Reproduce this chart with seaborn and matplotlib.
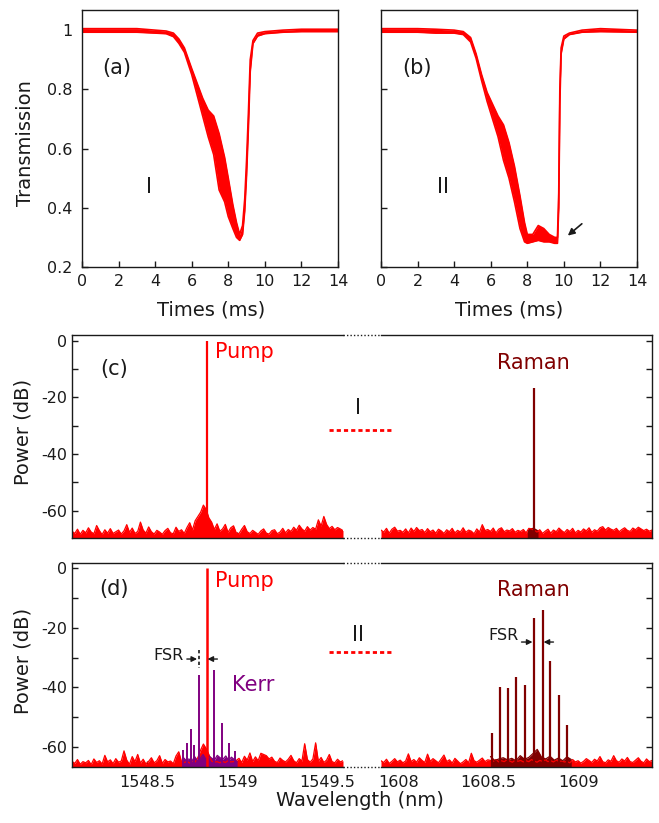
import numpy as np
import pandas as pd
import matplotlib
matplotlib.use('Agg')
import matplotlib.pyplot as plt
import seaborn as sns
from matplotlib.lines import Line2D

sns.set_theme(style='ticks')
plt.rcParams['font.family'] = ['DejaVu Sans']
plt.rcParams['axes.unicode_minus'] = False
plt.rcParams['text.color'] = 'k'
plt.rcParams['axes.labelcolor'] = 'k'
plt.rcParams['xtick.color'] = 'k'
plt.rcParams['ytick.color'] = 'k'

RED = '#ff0000'
DARKRED = '#800000'
PURPLE = '#800080'

# ---------------- transmission traces (envelopes of the noisy trace) ----------------
t_a = [0, 1, 2, 3, 4, 4.6, 5.0, 5.3, 5.6, 6.0, 6.3, 6.6, 6.9, 7.2, 7.5, 7.8, 8.0, 8.25,
       8.45, 8.62, 8.78, 8.9, 9.0, 9.1, 9.2, 9.35, 9.6, 10.0, 11, 12, 14]
upper_a = [1.005, 1.005, 1.005, 1.005, 1.0, 0.997, 0.99, 0.97, 0.94, 0.87, 0.82, 0.77, 0.73,
           0.71, 0.65, 0.57, 0.50, 0.41, 0.35, 0.31, 0.34, 0.43, 0.56, 0.72, 0.90, 0.965,
           0.99, 0.995, 1.0, 1.003, 1.003]
lower_a = [0.993, 0.993, 0.993, 0.993, 0.99, 0.988, 0.978, 0.955, 0.925, 0.85, 0.78, 0.71,
           0.64, 0.58, 0.46, 0.42, 0.37, 0.33, 0.30, 0.29, 0.31, 0.39, 0.51, 0.67, 0.86,
           0.955, 0.98, 0.988, 0.993, 0.995, 0.995]

t_b = [0, 1, 2, 3, 4, 4.5, 4.9, 5.2, 5.5, 5.8, 6.1, 6.4, 6.7, 7.0, 7.3, 7.6, 7.85, 8.0,
       8.3, 8.6, 8.9, 9.2, 9.5, 9.65, 9.72, 9.78, 9.85, 10.0, 10.3, 11, 12, 14]
upper_b = [1.005, 1.005, 1.005, 1.003, 1.0, 0.995, 0.975, 0.92, 0.85, 0.79, 0.75, 0.71,
           0.68, 0.62, 0.54, 0.44, 0.35, 0.31, 0.31, 0.34, 0.33, 0.31, 0.30, 0.30, 0.45,
           0.80, 0.94, 0.98, 0.99, 1.0, 1.005, 1.0]
lower_b = [0.993, 0.993, 0.993, 0.99, 0.99, 0.985, 0.96, 0.905, 0.83, 0.76, 0.70, 0.64,
           0.56, 0.50, 0.42, 0.33, 0.285, 0.28, 0.285, 0.29, 0.285, 0.285, 0.28, 0.28,
           0.40, 0.75, 0.92, 0.97, 0.985, 0.993, 0.995, 0.993]

time_ticks = [0, 2, 4, 6, 8, 10, 12, 14]
trans_ticks = [0.2, 0.4, 0.6, 0.8, 1.0]
trans_tick_labels = ['0.2', '0.4', '0.6', '0.8', '1']

# ---------------- spectra ----------------
pump_wl = 1548.83
pump_db = 0.0
raman_c_wl = 1608.75
raman_c_db = -16.6
raman_c_base_wl = [1608.715, 1608.73, 1608.745, 1608.76, 1608.775]
raman_c_base_db = [-66.6, -66.0, -65.8, -66.2, -66.8]

kerr_wl = [1548.699, 1548.72, 1548.742, 1548.758, 1548.785, 1548.871, 1548.914, 1548.957, 1548.99]
kerr_db = [-61.0, -58.5, -54.0, -59.4, -36.0, -34.2, -52.1, -58.7, -61.5]
kerr_floor_db = [-63.5, -64.5, -64.0, -64.8, -63.2, -64.6, -63.8, -62.5, -64.2, -63.0,
                 -63.7, -64.4, -62.8, -63.6, -64.1, -63.0, -64.5, -63.4, -64.2, -64.9]

raman_d_wl = [1608.517, 1608.561, 1608.609, 1608.654, 1608.702, 1608.752, 1608.800,
              1608.844, 1608.893, 1608.939]
raman_d_db = [-55.4, -39.8, -40.1, -36.6, -39.3, -16.9, -14.1, -31.2, -42.6, -52.6]
raman_floor_db = [-63.2, -64.5, -64.0, -63.6, -64.3, -63.8, -64.6, -62.9, -64.1, -63.5,
                  -62.2, -60.8, -63.4, -64.0, -63.1, -64.4, -63.7, -64.6, -63.3, -64.2]

noise_c_left = [
    -67.2, -68.0, -66.5, -68.3, -66.9, -67.8, -66.0, -67.5, -68.1, -65.2,
    -67.0, -68.4, -66.7, -67.9, -66.3, -68.0, -67.4, -66.8, -68.2, -67.1,
    -64.9, -67.6, -66.1, -68.0, -67.3, -64.0, -66.8, -67.9, -65.7, -67.4,
    -68.2, -66.9, -67.5, -68.3, -67.0, -66.2, -67.8, -68.1, -65.8, -67.3,
    -66.7, -68.0, -65.9, -64.2, -66.8, -63.5, -62.0, -60.5, -58.0, -59.5,
    -62.5, -64.0, -66.6, -64.6, -67.2, -66.4, -64.8, -67.6, -66.0, -65.3,
    -67.8, -68.1, -66.5, -65.2, -67.4, -68.0, -66.9, -67.6, -68.3, -67.1,
    -66.4, -67.9, -68.2, -67.0, -66.7, -68.1, -67.5, -66.2, -67.8, -66.6,
    -67.3, -65.8, -66.9, -65.1, -66.4, -67.2, -65.6, -66.8, -65.9, -66.5,
    -63.2, -65.4, -62.0, -64.8, -66.3, -65.5, -66.7, -65.9, -66.4, -67.0]
noise_c_right = [
    -66.8, -67.5, -66.2, -67.9, -66.5, -65.8, -67.2, -66.9, -67.6, -66.4,
    -67.8, -66.1, -67.3, -65.9, -67.0, -66.6, -67.7, -66.3, -67.4, -66.8,
    -67.9, -66.5, -67.1, -68.0, -66.7, -67.4, -66.2, -67.8, -66.9, -67.5,
    -66.0, -67.6, -66.8, -67.2, -68.1, -66.4, -67.5, -64.9, -67.0, -66.6,
    -67.3, -66.1, -67.8, -66.5, -66.0, -67.4, -66.8, -67.1, -66.3, -67.6,
    -66.9, -67.3, -66.6, -67.8, -66.2, -66.4, -66.9, -67.5, -66.7, -68.0,
    -67.2, -66.5, -67.9, -66.8, -67.4, -66.1, -67.0, -67.7, -66.6, -67.3,
    -66.2, -67.8, -66.9, -67.5, -66.4, -67.1, -66.0, -67.6, -66.7, -67.2,
    -66.0, -65.6, -66.8, -65.9, -66.5, -66.9, -66.2, -67.4, -66.6, -66.0,
    -66.9, -67.3, -66.1, -66.7, -65.8, -66.4, -67.0, -66.5, -67.2, -66.8]
noise_d_left = [
    -64.8, -65.5, -64.2, -65.8, -64.9, -65.3, -64.5, -65.9, -64.0, -65.2,
    -64.6, -65.7, -62.8, -65.0, -64.3, -65.6, -63.9, -65.1, -64.7, -61.3,
    -64.4, -65.8, -63.2, -64.9, -62.5, -65.4, -64.1, -65.7, -64.8, -63.6,
    -65.3, -64.6, -62.9, -65.5, -64.2, -65.0, -64.7, -65.6, -63.0, -61.6,
    -64.9, -65.2, -64.8, -65.4, -64.6, -65.0, -63.5, -61.0, -59.0, -60.5,
    -62.5, -64.7, -65.1, -64.9, -65.3, -64.8, -65.2, -64.6, -65.0, -64.9,
    -64.5, -63.8, -65.2, -63.1, -64.4, -62.0, -64.9, -63.3, -64.6, -62.1,
    -62.5, -62.9, -64.0, -63.4, -64.8, -65.2, -63.7, -64.5, -65.0, -64.1,
    -62.8, -64.6, -65.3, -63.9, -64.7, -58.9, -64.2, -65.1, -64.0, -58.6,
    -64.8, -63.5, -65.2, -64.4, -62.5, -64.9, -65.3, -64.1, -65.0, -64.6]
noise_d_right = [
    -64.6, -65.2, -64.1, -65.5, -64.8, -63.9, -65.0, -64.4, -65.3, -64.7,
    -62.3, -64.9, -64.2, -65.1, -63.6, -64.5, -65.2, -62.4, -64.8, -63.9,
    -64.6, -65.3, -64.0, -62.7, -64.9, -64.3, -65.4, -63.8, -64.7, -65.6,
    -65.0, -64.2, -65.3, -62.1, -64.6, -65.1, -64.4, -63.7, -64.9, -64.3,
    -64.5, -64.8, -64.2, -65.0, -64.6, -64.9, -64.3, -64.7, -65.1, -64.4,
    -64.8, -64.5, -65.0, -64.6, -64.9, -64.2, -64.7, -65.1, -64.5, -64.8,
    -64.3, -64.9, -64.6, -65.0, -64.4, -64.8, -64.7, -65.0, -64.9, -65.3,
    -64.2, -65.0, -64.6, -65.4, -64.8, -63.9, -64.5, -65.2, -64.1, -64.7,
    -63.2, -64.9, -65.3, -64.3, -64.8, -62.9, -64.6, -65.1, -64.0, -64.7,
    -63.5, -64.9, -65.2, -64.4, -63.6, -64.8, -65.3, -64.0, -64.9, -64.5]

wl_left_range = (1548.08, 1549.59)
wl_right_range = (1607.90, 1609.41)
kerr_range = (1548.70, 1549.00)
raman_floor_range = (1608.51, 1608.96)
ylim_c = (-69.6, 2.0)
ylim_d = (-66.7, 1.7)
wl_left_ticks = [1548.5, 1549.0, 1549.5]
wl_left_labels = ['1548.5', '1549', '1549.5']
wl_right_ticks = [1608.0, 1608.5, 1609.0]
wl_right_labels = ['1608', '1608.5', '1609']
power_ticks = [0, -10, -20, -30, -40, -50, -60]
power_labels = ['0', '', '-20', '', '-40', '', '-60']

# ---------------- figure ----------------
W, H = 659, 823
fig = plt.figure(figsize=(W / 100, H / 100), dpi=100)


def px_axes(x0, y0, x1, y1):
    return fig.add_axes([x0 / W, 1 - y1 / H, (x1 - x0) / W, (y1 - y0) / H])


def ftext(x, y, s, **kw):
    fig.text(x / W, 1 - y / H, s, **kw)


def style(ax):
    for sp in ax.spines.values():
        sp.set_color('k')
        sp.set_linewidth(1.0)
    ax.tick_params(direction='in', length=4, width=1, colors='k', labelsize=11.5)


def trans(ax, t, up, lo):
    ax.fill_between(t, lo, up, color=RED, lw=0)
    df = pd.DataFrame({'t': list(t) + list(t), 'T': list(up) + list(lo),
                       'edge': ['u'] * len(t) + ['l'] * len(t)})
    sns.lineplot(data=df, x='t', y='T', units='edge', estimator=None, color=RED,
                 lw=1.2, ax=ax, legend=False)
    ax.set_xlim(0, 14)
    ax.set_ylim(0.2, 1.068)
    ax.set_xticks(time_ticks)
    ax.set_yticks(trans_ticks)
    ax.set_xlabel('')
    ax.set_ylabel('')
    style(ax)
    ax.tick_params(axis='x', pad=5)
    ax.tick_params(axis='y', pad=7)


ax_a = px_axes(82, 10, 338, 267)
trans(ax_a, t_a, upper_a, lower_a)
ax_a.set_yticklabels(trans_tick_labels)
ax_b = px_axes(381, 10, 637, 267)
trans(ax_b, t_b, upper_b, lower_b)
ax_b.set_yticklabels([])
ax_b.annotate('', xy=(10.1, 0.30), xytext=(11.1, 0.352),
              arrowprops=dict(arrowstyle='-|>', color='k', lw=1.2, mutation_scale=10))

ftext(117, 68, '(a)', fontsize=15, ha='center', va='center')
ftext(149, 187, 'I', fontsize=15, ha='center', va='center')
ftext(417, 68, '(b)', fontsize=15, ha='center', va='center')
ftext(443, 187, 'II', fontsize=15, ha='center', va='center')
ftext(26, 143, 'Transmission', fontsize=14, rotation=90, ha='center', va='center')
ftext(211, 310, 'Times (ms)', fontsize=14, ha='center', va='center')
ftext(509, 310, 'Times (ms)', fontsize=14, ha='center', va='center')


def floor(ax, rng, vals, base, color):
    wl = np.linspace(rng[0], rng[1], len(vals))
    ax.fill_between(wl, base, vals, color=color, lw=0)
    df = pd.DataFrame({'wl': wl, 'db': vals})
    sns.lineplot(data=df, x='wl', y='db', color=color, lw=0.9, ax=ax, estimator=None)
    ax.set_xlabel('')
    ax.set_ylabel('')


def spec_axes(y0, y1, ylim, show_xlabels):
    axL = px_axes(72, y0, 343, y1)
    axR = px_axes(381, y0, 652, y1)
    for ax, rng, ticks, labels in ((axL, wl_left_range, wl_left_ticks, wl_left_labels),
                                   (axR, wl_right_range, wl_right_ticks, wl_right_labels)):
        ax.set_xlim(*rng)
        ax.set_ylim(*ylim)
        ax.set_xticks(ticks)
        ax.set_xticklabels(labels if show_xlabels else [])
        ax.set_yticks(power_ticks)
        style(ax)
        ax.tick_params(axis='x', pad=6)
    axL.set_yticklabels(power_labels)
    axL.tick_params(axis='y', pad=3.5)
    axL.spines['right'].set_visible(False)
    axR.spines['left'].set_visible(False)
    axR.yaxis.tick_right()
    axR.set_yticklabels([])
    axR.tick_params(axis='y', direction='in', length=4)
    gap = (381 - 343) / (343 - 72)
    for yy in (0, 1):
        axL.add_line(Line2D([1, 1 + gap], [yy, yy], transform=axL.transAxes, clip_on=False,
                            color='k', lw=1.0, ls=(0, (1, 1.5))))
    return axL, axR


# panel (c)
axcL, axcR = spec_axes(335, 538, ylim_c, False)
floor(axcL, wl_left_range, noise_c_left, ylim_c[0], RED)
axcL.vlines(pump_wl, ylim_c[0], pump_db, color=RED, lw=1.6)
floor(axcR, wl_right_range, noise_c_right, ylim_c[0], RED)
axcR.fill_between(raman_c_base_wl, ylim_c[0], raman_c_base_db, color=DARKRED, lw=0)
axcR.vlines(raman_c_wl, ylim_c[0], raman_c_db, color=DARKRED, lw=1.6)

# panel (d)
axdL, axdR = spec_axes(563, 767, ylim_d, True)
floor(axdL, wl_left_range, noise_d_left, ylim_d[0], RED)
floor(axdL, kerr_range, kerr_floor_db, ylim_d[0], PURPLE)
axdL.vlines(kerr_wl, ylim_d[0], kerr_db, color=PURPLE, lw=1.4)
axdL.vlines(pump_wl, ylim_d[0], pump_db, color=RED, lw=1.8)
floor(axdR, wl_right_range, noise_d_right, ylim_d[0], RED)
floor(axdR, raman_floor_range, raman_floor_db, ylim_d[0], DARKRED)
axdR.vlines(raman_d_wl, ylim_d[0], raman_d_db, color=DARKRED, lw=1.6)

# FSR markers (d)
arr = dict(arrowstyle='-|>', color='k', lw=1.0, mutation_scale=8, shrinkA=0, shrinkB=0)
axdL.annotate('', xy=(1548.777, -30.5), xytext=(1548.72, -30.5), arrowprops=arr)
axdL.annotate('', xy=(1548.835, -30.5), xytext=(1548.89, -30.5), arrowprops=arr)
axdL.plot([1548.786, 1548.786], [-27.5, -33.6], color='k', lw=1.2, ls=(0, (2, 1.5)))
axdL.text(1548.70, -29.2, 'FSR', fontsize=11.5, ha='right', va='center')
axdR.annotate('', xy=(1608.744, -24.8), xytext=(1608.683, -24.8), arrowprops=arr)
axdR.annotate('', xy=(1608.806, -24.8), xytext=(1608.861, -24.8), arrowprops=arr)
axdR.text(1608.667, -22.5, 'FSR', fontsize=11.5, ha='right', va='center')

# labels
ftext(114, 369, '(c)', fontsize=15, ha='center', va='center')
ftext(215, 352, 'Pump', fontsize=15, color=RED, ha='left', va='center')
ftext(533, 363, 'Raman', fontsize=15, color=DARKRED, ha='center', va='center')
ftext(358, 408, 'I', fontsize=15, ha='center', va='center')
fig.add_artist(Line2D([329 / W, 393 / W], [1 - 430 / H] * 2, color=RED, lw=2.0,
                      ls=(0, (1.5, 1.1))))

ftext(114, 589, '(d)', fontsize=15, ha='center', va='center')
ftext(215, 581, 'Pump', fontsize=15, color=RED, ha='left', va='center')
ftext(232, 685, 'Kerr', fontsize=15, color=PURPLE, ha='left', va='center')
ftext(533, 590, 'Raman', fontsize=15, color=DARKRED, ha='center', va='center')
ftext(358, 635, 'II', fontsize=15, ha='center', va='center')
fig.add_artist(Line2D([329 / W, 393 / W], [1 - 652 / H] * 2, color=RED, lw=2.0,
                      ls=(0, (1.5, 1.1))))

ftext(23, 432, 'Power (dB)', fontsize=14, rotation=90, ha='center', va='center')
ftext(23, 661, 'Power (dB)', fontsize=14, rotation=90, ha='center', va='center')
ftext(360, 800, 'Wavelength (nm)', fontsize=14, ha='center', va='center')

fig.savefig('out.png', dpi=100)
